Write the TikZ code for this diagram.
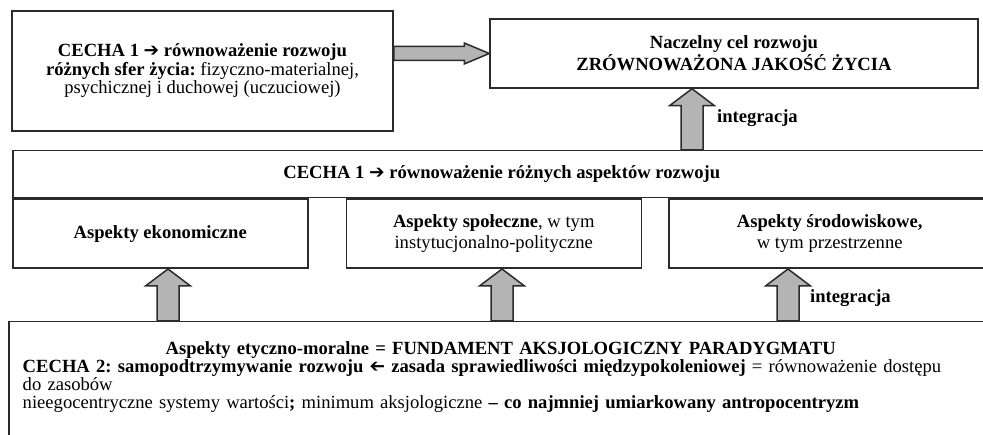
\documentclass[tikz,border=0pt]{standalone}
\usepackage{fontspec}
\usepackage{graphicx}
\setmainfont{Liberation Serif}
\newfontfamily\arrowfont{DejaVu Sans}
\usetikzlibrary{positioning,calc}
\frenchspacing

\definecolor{boxline}{HTML}{2B2B2B}
\definecolor{arrowgray}{HTML}{B4B4B4}

\newcommand{\rarr}{{\arrowfont\char"2794}}
\newcommand{\larr}{\reflectbox{\rarr}}

\newcommand{\uparr}[2]{%
  \draw[fatarrow] let \p1=(#1), \p2=(#2) in
    (\x1-11pt,\y1) -- (\x1-11pt,\y2-17pt) -- (\x1-22.5pt,\y2-17pt) -- (\x2,\y2)
    -- (\x1+22.5pt,\y2-17pt) -- (\x1+11pt,\y2-17pt) -- (\x1+11pt,\y1) -- cycle;}
\newcommand{\rightarr}[2]{%
  \draw[fatarrow] let \p1=(#1), \p2=(#2) in
    (\x1,\y1-7pt) -- (\x2-25pt,\y1-7pt) -- (\x2-25pt,\y1-10.5pt) -- (\x2,\y2)
    -- (\x2-25pt,\y1+10.5pt) -- (\x2-25pt,\y1+7pt) -- (\x1,\y1+7pt) -- cycle;}

\tikzset{
  box/.style={draw=boxline, line width=1.5pt, fill=white, inner sep=0pt,
    align=center, font=\fontsize{18.6}{21}\selectfont},
  fatarrow/.style={draw=boxline, line width=1.5pt, fill=arrowgray},
  intlabel/.style={anchor=west, inner sep=0pt, font=\fontsize{18.6}{20}\selectfont\bfseries}
}

\begin{document}
\begin{tikzpicture}[x=1pt,y=1pt]
  \useasboundingbox (0,0) rectangle (983,435);
  \clip (0,0) rectangle (983,435);

  \node[box, minimum width=381pt, minimum height=120pt, font=\fontsize{18.6}{18.5}\selectfont] (sfery) at (202.5,364)
    {\textbf{CECHA 1 \rarr{} równoważenie rozwoju}\\
     \textbf{różnych sfer życia:} fizyczno-materialnej,\\
     psychicznej i duchowej (uczuciowej)};
  \node[box, minimum width=488pt, minimum height=69pt, font=\fontsize{18.6}{22}\selectfont\bfseries] (cel) at (734,381.5)
    {Naczelny cel rozwoju\\ ZRÓWNOWAŻONA JAKOŚĆ ŻYCIA};

  \node[box, minimum width=978pt, minimum height=47pt, anchor=north west, font=\fontsize{18.6}{20}\selectfont\bfseries] (cecha1) at (12,285)
    {CECHA 1 \rarr{} równoważenie różnych aspektów rozwoju};
  \node[box, minimum width=295pt, minimum height=69pt, anchor=north west] (ekon) at (cecha1.south west)
    {\textbf{Aspekty ekonomiczne}};
  \node[box, minimum width=295pt, minimum height=69pt, right=37pt of ekon] (spol)
    {\textbf{Aspekty społeczne}, w tym\\ instytucjonalno-polityczne};
  \node[box, minimum width=322pt, minimum height=69pt, right=26pt of spol] (srod)
    {\textbf{Aspekty środowiskowe,}\\ w tym przestrzenne};

  \node[box, anchor=north west, text width=956pt, inner xsep=14pt, inner ysep=20pt, text depth=120pt,
    align=left, font=\fontsize{18.6}{18}\selectfont] (etyka) at (8,114)
    {\makebox[956pt][c]{\textbf{Aspekty etyczno-moralne = FUNDAMENT AKSJOLOGICZNY PARADYGMATU}}\\
     \textbf{CECHA 2: samopodtrzymywanie rozwoju \larr{} zasada sprawiedliwości międzypokoleniowej} = równoważenie dostępu\\
     do zasobów\\
     nieegocentryczne systemy wartości\textbf{;} minimum aksjologiczne \textbf{– co najmniej umiarkowany antropocentryzm}};

  \coordinate (a0) at (692,0);
  \coordinate (a1) at (168,0);
  \coordinate (a2) at (502,0);
  \coordinate (a3) at (788,0);

  \rightarr{sfery.east |- cel.west}{cel.west}
  \uparr{cecha1.north -| a0}{cel.south -| a0}
  \uparr{etyka.north -| a1}{ekon.south -| a1}
  \uparr{etyka.north -| a2}{spol.south -| a2}
  \uparr{etyka.north -| a3}{srod.south -| a3}

  \node[intlabel] (int1) at (717,317) {integracja};
  \node[intlabel] (int2) at (810,137) {integracja};
\end{tikzpicture}
\end{document}
